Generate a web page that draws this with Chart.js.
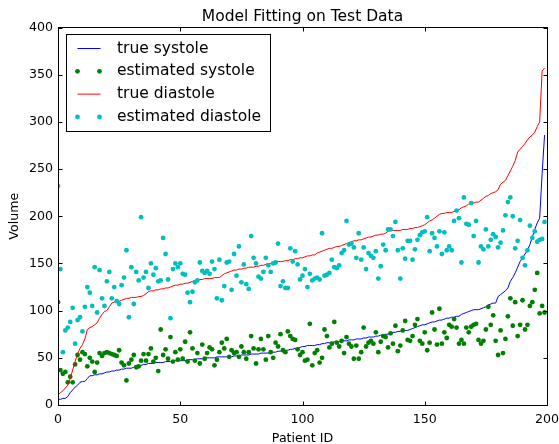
<!DOCTYPE html>
<html><head><meta charset="utf-8">
<script src="https://cdn.jsdelivr.net/npm/chart.js@4/dist/chart.umd.min.js"></script>
<style>html,body{margin:0;padding:0;background:#fff;}#wrap{width:559px;height:444px;}</style>
</head><body><div id="wrap"><canvas id="c" width="559" height="444"></canvas></div>
<script>
const seriesNames = ['true systole', 'estimated systole', 'true diastole', 'estimated diastole'];
const xTickValues = [0, 50, 100, 150, 200];
const yTickValues = [0, 50, 100, 150, 200, 250, 300, 350, 400];

const trueSystole = [
6,6,7,7,9,13,16,19,21,24, 25,25,28,31,31,32,32,33,33,34,
35,35,36,36,37,37,38,38,39,39, 39,40,40,41,42,43,43,44,44,44,
45,45,45,45,46,46,46,46,47,47, 47,47,47,48,48,48,48,49,49,49,
49,50,50,50,50,51,51,51,51,51, 51,51,52,52,52,53,53,53,53,54,
54,54,54,55,55,55,55,56,56,56, 57,57,58,58,58,59,59,60,60,61,
62,62,63,63,63,63,64,64,65,65, 66,66,66,67,67,67,68,68,68,69,
69,69,70,70,70,71,71,72,72,72, 73,73,74,74,75,75,76,77,77,78,
78,79,79,79,80,81,82,83,84,85, 85,86,87,88,88,89,90,90,91,92,
92,93,93,94,94,96,97,98,99,100, 101,101,101,102,103,104,106,107,108,108,
115,117,119,121,124,131,135,140,146,152, 156,160,164,170,178,186,193,198,245,286];

const estimatedSystole = [
109,37,33,35,24,30,24,43,53,48,56,54,41,50,46,35,45,55,52,55,56,55,54,53,52,58,45,42,26,44,48,53,40,
41,47,54,47,54,60,46,50,36,80,53,59,49,72,46,56,48,59,49,67,46,77,60,47,55,44,64,49,55,61,59,42,48,56,
66,60,70,51,58,55,56,51,62,56,49,56,73,60,44,59,70,59,48,73,56,50,66,62,75,58,56,78,73,70,69,59,53,56,47,48,86,
42,55,58,45,50,80,73,61,65,88,66,62,68,55,72,65,62,49,63,49,56,82,62,66,68,65,77,56,67,73,72,61,76,65,
84,57,63,79,89,69,68,73,85,91,68,65,77,58,66,98,80,64,102,65,77,71,85,83,91,82,65,69,65,82,77,83,
85,86,69,65,68,80,104,85,95,68,53,79,55,70,94,113,84,109,73,85,111,80,85,105,109,122,140,97,105,98];

const trueDiastole = [
11,13,15,18,21,28,37,46,54,60, 64,70,80,82,83,85,87,92,96,99,
100,104,108,109,110,110,111,112,113,113, 114,114,114,115,115,116,118,120,121,121,
122,122,123,123,124,124,125,126,127,127, 128,128,129,129,130,131,132,132,133,133,
134,134,134,134,135,135,135,137,139,140, 141,142,143,143,144,144,145,145,146,146,
146,147,147,148,148,149,150,150,151,151, 152,152,152,153,153,154,154,155,155,156,
156,157,158,158,159,159,161,162,163,164, 165,166,166,167,168,168,169,170,171,172,
173,174,174,175,175,176,177,178,178,179, 180,180,181,181,182,184,185,185,185,185,
185,186,186,186,187,187,188,188,189,190, 191,193,195,196,198,200,202,203,203,204,
204,204,205,206,207,209,210,211,213,214, 214,215,215,217,219,221,222,224,225,226,
228,234,236,238,243,248,253,259,268,271, 274,277,281,284,286,289,295,300,354,357];

const estimatedDiastole = [
232,144,56,79,82,88,103,65,90,93,78,104,125,119,105,146,98,143,113,105,131,141,113,125,110,107,127,135,164,93,146,107,141,132,
199,135,141,124,150,138,145,131,132,177,160,133,92,144,150,146,150,139,138,119,109,120,130,132,151,142,140,142,139,152,144,113,154,111,126,
151,152,122,160,137,168,130,149,128,123,179,156,150,136,134,141,156,148,141,150,151,171,126,131,124,124,166,152,163,149,133,137,144,125,139,
132,134,135,133,182,137,138,140,154,146,145,148,161,164,195,170,171,167,156,182,154,167,144,161,158,156,163,134,147,170,164,186,186,179,
194,164,134,166,155,174,174,154,165,175,180,183,184,199,163,182,177,168,184,160,183,164,168,164,195,206,198,151,220,192,191,214,179,195,151,
168,165,186,168,175,181,178,167,172,185,201,215,220,200,166,174,196,156,148,164,190,177,184,173,175,176,194];

const toPts = arr => arr.map((v, i) => ({x: i, y: v}));
const FONT = 'DejaVu Sans';

const mplPlugin = {
  id: 'mpl',
  afterDatasetsDraw(chart) {
    const {ctx, chartArea: a, scales: {x, y}} = chart;
    const L = Math.floor(a.left) + 0.5, R = Math.floor(a.right) + 0.5;
    const T = Math.floor(a.top) + 0.5, B = Math.floor(a.bottom) + 0.5;
    ctx.save();
    ctx.strokeStyle = '#000'; ctx.lineWidth = 1;
    ctx.beginPath();
    x.ticks.forEach(t => {
      const p = Math.round(x.getPixelForValue(t.value)) + 0.5;
      ctx.moveTo(p, B); ctx.lineTo(p, B - 4);
      ctx.moveTo(p, T); ctx.lineTo(p, T + 4);
    });
    y.ticks.forEach(t => {
      const p = Math.round(y.getPixelForValue(t.value)) + 0.5;
      ctx.moveTo(L, p); ctx.lineTo(L + 4, p);
      ctx.moveTo(R, p); ctx.lineTo(R - 4, p);
    });
    ctx.stroke();
    ctx.strokeRect(L, T, R - L, B - T);
    // legend
    const x0 = L + 8, y0 = T + 7, w = 204, h = 97;
    ctx.fillStyle = '#fff';
    ctx.fillRect(x0, y0, w, h);
    ctx.strokeRect(x0, y0, w, h);
    chart.data.datasets.forEach((ds, k) => {
      const cy = y0 + 14 + k * 22.8;
      if (ds.showLine) {
        ctx.strokeStyle = ds.borderColor; ctx.lineWidth = 1;
        ctx.beginPath(); ctx.moveTo(x0 + 11, cy); ctx.lineTo(x0 + 34, cy); ctx.stroke();
      } else {
        ctx.fillStyle = ds.backgroundColor;
        [x0 + 11, x0 + 33].forEach(px => { ctx.beginPath(); ctx.arc(px, cy, 2.4, 0, Math.PI * 2); ctx.fill(); });
      }
      ctx.fillStyle = '#000';
      ctx.font = '15.5px "' + FONT + '"';
      ctx.textBaseline = 'middle'; ctx.textAlign = 'left';
      ctx.fillText(ds.label, x0 + 50.5, cy);
    });
    ctx.restore();
  }
};

new Chart(document.getElementById('c'), {
  type: 'scatter',
  data: {
    datasets: [
      {label: seriesNames[0], data: toPts(trueSystole), showLine: true, borderColor: '#0000ff', backgroundColor: '#0000ff', borderWidth: 1, pointRadius: 0, order: 3, clip: 0},
      {label: seriesNames[1], data: toPts(estimatedSystole), showLine: false, borderColor: '#008000', backgroundColor: '#008000', borderWidth: 0, pointRadius: 2.4, order: 2, clip: 0},
      {label: seriesNames[2], data: toPts(trueDiastole), showLine: true, borderColor: '#ff0000', backgroundColor: '#ff0000', borderWidth: 1, pointRadius: 0, order: 1, clip: 0},
      {label: seriesNames[3], data: toPts(estimatedDiastole), showLine: false, borderColor: '#00bfbf', backgroundColor: '#00bfbf', borderWidth: 0, pointRadius: 2.4, order: 0, clip: 0}
    ]
  },
  options: {
    responsive: false, animation: false, devicePixelRatio: 1,
    layout: {padding: {top: 0, right: 12, bottom: 0, left: 0}},
    plugins: {
      legend: {display: false},
      tooltip: {enabled: false},
      title: {display: true, fullSize: false, text: 'Model Fitting on Test Data', color: '#000',
        font: {family: FONT, size: 15.5, weight: 'normal', lineHeight: 1.2}, padding: {top: 7.5, bottom: 1.4}}
    },
    scales: {
      x: {
        type: 'linear', min: 0, max: 200,
        afterBuildTicks: s => { s.ticks = xTickValues.map(v => ({value: v})); },
        afterFit: s => { s.height = 39; s.paddingRight = 0; s.paddingLeft = 0; },
        grid: {display: false, drawTicks: false},
        border: {display: false},
        ticks: {color: '#000', padding: 6.7, maxRotation: 0, font: {family: FONT, size: 12.6}},
        title: {display: true, text: 'Patient ID', color: '#000', font: {family: FONT, size: 12.6, lineHeight: 0.8}, padding: {top: 0, bottom: 0}}
      },
      y: {
        type: 'linear', min: 0, max: 400,
        afterBuildTicks: s => { s.ticks = yTickValues.map(v => ({value: v})); },
        afterFit: s => { s.width = 58; s.paddingTop = 0; s.paddingBottom = 0; },
        grid: {display: false, drawTicks: false},
        border: {display: false},
        ticks: {color: '#000', padding: 5, font: {family: FONT, size: 12.6}},
        title: {display: true, text: 'Volume', color: '#000', font: {family: FONT, size: 12.6, lineHeight: 0.8}, padding: {top: 9.5, bottom: 0}}
      }
    }
  },
  plugins: [mplPlugin]
});
</script></body></html>
